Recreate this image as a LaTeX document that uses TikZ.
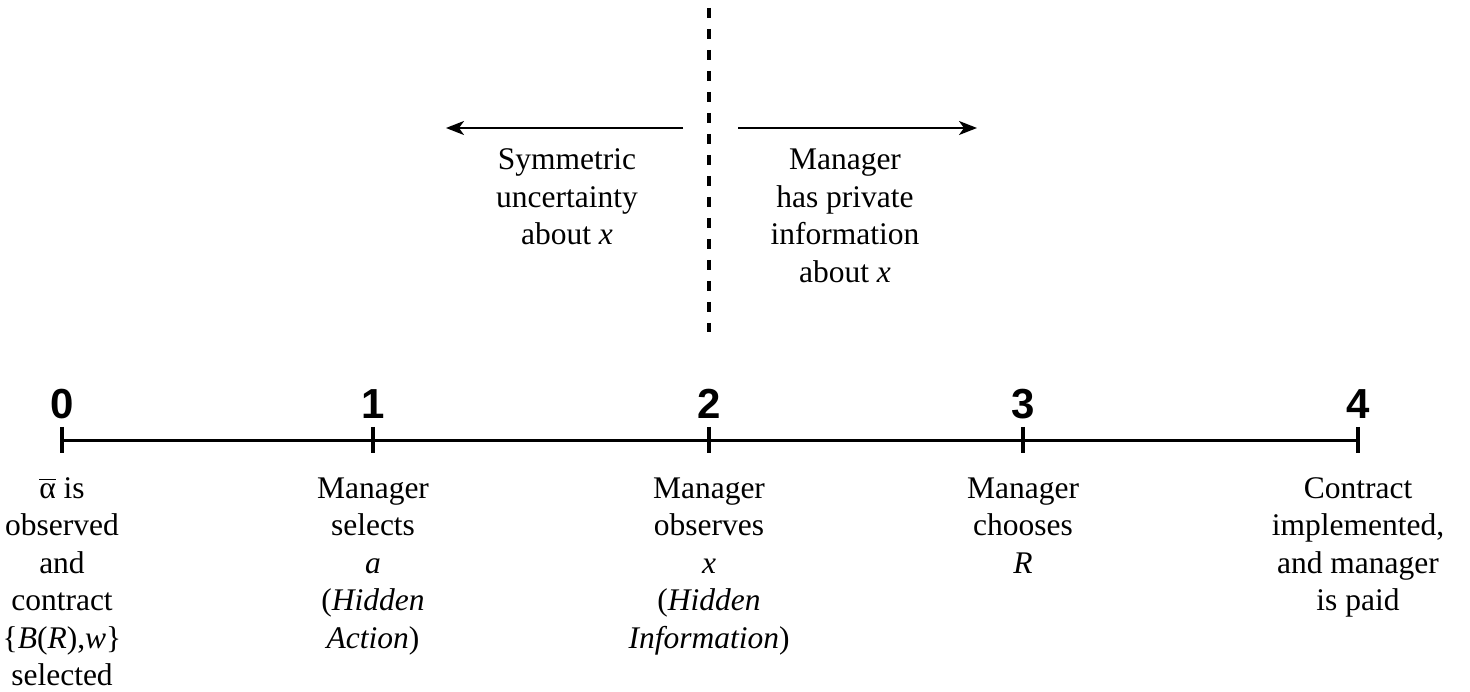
\documentclass[tikz,border=0pt]{standalone}
\usepackage{fontspec}
\setmainfont{Liberation Serif}
\newfontfamily\numfont{Liberation Sans}
\usetikzlibrary{arrows.meta}
\tikzset{
  stage/.style={font=\numfont\bfseries\fontsize{42}{42}\selectfont, anchor=base, inner sep=0pt},
  event/.style={font=\fontsize{31.5}{37.5}\selectfont, align=center, anchor=base, inner sep=0pt},
  tick/.style={line width=3.5pt},
  side/.style={line width=2.2pt, -{Stealth[length=18pt,width=14pt,inset=5pt]}}
}
\begin{document}
\begin{tikzpicture}[x=1pt,y=-1pt]
    \useasboundingbox (0,0) rectangle (1470,692);
    \coordinate(t0) at (62,440);
    \coordinate(t1) at (373,440);
    \coordinate(t2) at (709,440);
    \coordinate(t3) at (1023,440);
    \coordinate(t4) at (1358,440);
    \draw[line width=3pt] (t0) -- (t4);
    \foreach \t in {t0,t1,t2,t3,t4}
      \draw[tick] (\t) ++(0,-13) -- ++(0,26);
    \node(n0) [stage] at (62,418) {0};
    \node(n1) [stage] at (373,418) {1};
    \node(n2) [stage] at (709,418) {2};
    \node(n3) [stage] at (1023,418) {3};
    \node(n4) [stage] at (1358,418) {4};
    % base = baseline of the last line
    \node(l0) [event] at (62,685.5) {$\overline{\mbox{α}\vphantom{l}}$ is\\observed\\and\\contract\\\{\textit{B}(\textit{R}),\textit{w}\}\\selected};
    \node(l1) [event] at (373,648) {Manager\\selects\\\textit{a}\\(\textit{Hidden}\\\textit{Action})};
    \node(l2) [event] at (709,648) {Manager\\observes\\\textit{x}\\(\textit{Hidden}\\\textit{Information})};
    \node(l3) [event] at (1023,573) {Manager\\chooses\\\textit{R}};
    \node(l4) [event] at (1358,610.5) {Contract\\implemented,\\and manager\\is paid};
    % information boundary
    \coordinate(dtop) at (709,0);
    \coordinate(dbot) at (709,332);
    \draw[line width=4pt, dash pattern=on 10pt off 11pt, dash phase=-8pt] (dtop) -- (dbot);
    \coordinate(aL0) at (683,128);
    \coordinate(aL1) at (446,128);
    \coordinate(aR0) at (738,128);
    \coordinate(aR1) at (977,128);
    \draw[side] (aL0) -- (aL1);
    \draw[side] (aR0) -- (aR1);
    \node(sym) [event] at (567,245) {Symmetric\\uncertainty\\about \textit{x}};
    \node(priv) [event] at (845,282.5) {Manager\\has private\\information\\about \textit{x}};
\end{tikzpicture}
\end{document}
